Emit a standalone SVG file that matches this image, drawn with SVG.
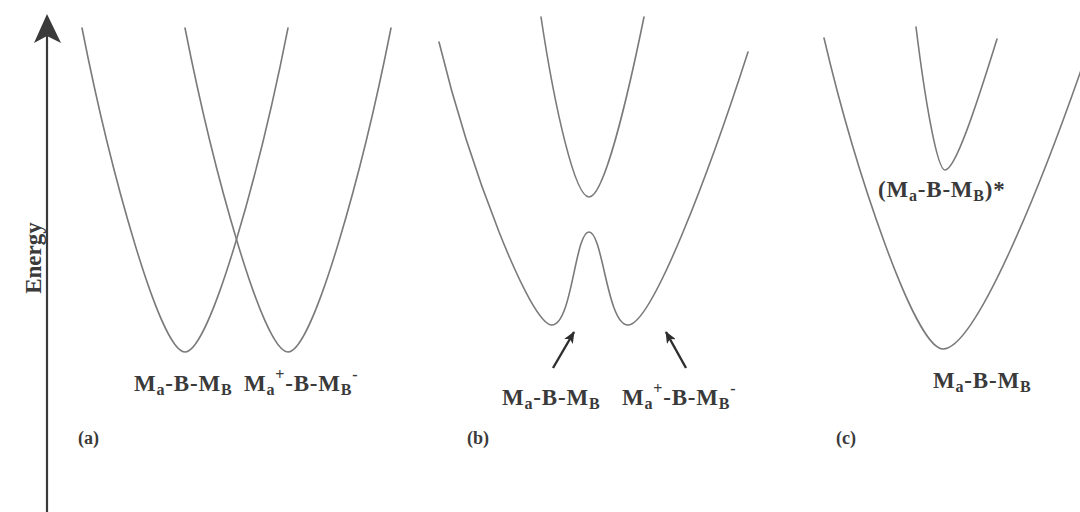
<svg xmlns="http://www.w3.org/2000/svg" width="1080" height="512" viewBox="0 0 1080 512">
<defs>
<style>
.curve{fill:none;stroke:#7a7a7a;stroke-width:1.6;stroke-linecap:round}
.axis{fill:none;stroke:#3a3a3a;stroke-width:2.2}
.lbl{font-family:"Liberation Serif","Times New Roman",serif;font-weight:bold;fill:#3a3a3a;font-size:23px;letter-spacing:0.8px}
.sm{font-size:16px}
.pl{font-family:"Liberation Serif","Times New Roman",serif;font-weight:bold;fill:#3a3a3a;font-size:18px}
.arr{stroke:#2e2e2e;stroke-width:2.4;fill:none}
</style>
<marker id="ah" viewBox="0 0 12 10" refX="11" refY="5" markerWidth="12" markerHeight="10" markerUnits="userSpaceOnUse" orient="auto">
<path d="M0,0 L12,5 L0,10 L3,5 Z" fill="#2e2e2e"/>
</marker>
</defs>
<rect width="1080" height="512" fill="#ffffff"/>

<g id="axis">
<line class="axis" x1="47" y1="30" x2="47" y2="512"/>
<path d="M47,14 L61,43 L47,36 L34,43 Z" fill="#3a3a3a"/>
<text class="lbl" transform="translate(41,258) rotate(-90)" text-anchor="middle" style="letter-spacing:0">Energy</text>
</g>

<g id="panel-a">
<path class="curve" d="M82,28 C110,170 160,352 185,352 C210,352 260,170 288,28"/>
<path class="curve" d="M185,28 C213,170 263,352 288,352 C313,352 363,170 391,28"/>
<text class="lbl" x="134" y="391">M<tspan class="sm" dy="4">a</tspan><tspan dy="-4">-B-M</tspan><tspan class="sm" dy="4">B</tspan></text>
<text class="lbl" x="244" y="391">M<tspan class="sm" dy="4">a</tspan><tspan class="sm" dy="-15">+</tspan><tspan dy="11">-B-M</tspan><tspan class="sm" dy="4">B</tspan><tspan class="sm" dy="-15">-</tspan></text>
<text class="pl" x="78" y="444">(a)</text>
</g>

<g id="panel-b">
<path class="curve" d="M439,42 C470,170 530,325 552,325 C572,325 575,232 589,232 C603,232 607,325 628,325 C652,325 710,170 748,52"/>
<path class="curve" d="M541,17 C555,110 575,197 589,197 C603,197 625,110 644,17"/>
<text class="lbl" x="502" y="405">M<tspan class="sm" dy="4">a</tspan><tspan dy="-4">-B-M</tspan><tspan class="sm" dy="4">B</tspan></text>
<text class="lbl" x="622" y="405">M<tspan class="sm" dy="4">a</tspan><tspan class="sm" dy="-15">+</tspan><tspan dy="11">-B-M</tspan><tspan class="sm" dy="4">B</tspan><tspan class="sm" dy="-15">-</tspan></text>
<text class="pl" x="467" y="444">(b)</text>
</g>

<g id="panel-c">
<path class="curve" d="M824,38 C855,170 915,349 943,349 C975,349 1040,190 1088,50"/>
<path class="curve" d="M916,27 C925,100 937,170 945,170 C955,170 975,110 997,39"/>
<text class="lbl" x="878" y="197">(M<tspan class="sm" dy="4">a</tspan><tspan dy="-4">-B-M</tspan><tspan class="sm" dy="4">B</tspan><tspan dy="-4">)*</tspan></text>
<text class="lbl" x="933" y="388">M<tspan class="sm" dy="4">a</tspan><tspan dy="-4">-B-M</tspan><tspan class="sm" dy="4">B</tspan></text>
<text class="pl" x="836" y="444">(c)</text>
</g>

<g id="connectors">
<line class="arr" x1="553" y1="368" x2="574" y2="332" marker-end="url(#ah)"/>
<line class="arr" x1="686" y1="368" x2="666" y2="332" marker-end="url(#ah)"/>
</g>
</svg>
